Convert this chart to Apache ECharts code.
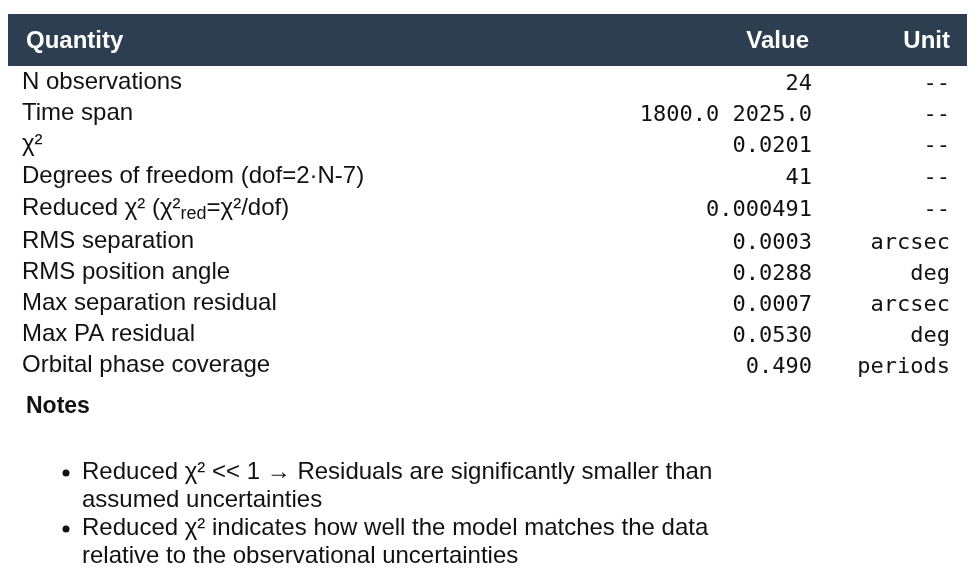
<!DOCTYPE html>
<html>
<head>
<meta charset="utf-8">
<script src="https://cdn.jsdelivr.net/npm/echarts@6/dist/echarts.min.js"></script>
<style>html,body{margin:0;padding:0;background:#fff}#main{width:980px;height:583px}</style>
</head>
<body>
<div id="main"></div>
<script>
var headers = ['Quantity', 'Value', 'Unit'];
var quantities = ['N observations', 'Time span', '{t|χ²}', 'Degrees of freedom (dof=2·N-7)',
	'Reduced χ² (χ²{sub|red}=χ²/dof)', 'RMS separation', 'RMS position angle',
	'Max separation residual', 'Max PA residual', 'Orbital phase coverage'];
var values = ['24', '1800.0 2025.0', '0.0201', '41', '0.000491', '0.0003', '0.0288', '0.0007', '0.0530', '0.490'];
var units = ['--', '--', '--', '--', '--', 'arcsec', 'deg', 'arcsec', 'deg', 'periods'];
var rowY = [82, 113, 144, 176, 208, 241, 272, 303, 334, 365];
var notes = ['Reduced χ² << 1 → Residuals are significantly smaller than', 'assumed uncertainties',
	'Reduced χ² indicates how well the model matches the data', 'relative to the observational uncertainties'];
var noteY = [472, 500, 528, 556];
var bulletRows = [0, 2];

var sans = 'Liberation Sans, Arial, sans-serif';
var mono = 'DejaVu Sans Mono, monospace';
var els = [];
els.push({type: 'rect', shape: {x: 8, y: 14, width: 959, height: 52}, style: {fill: '#2c3e50'}});
var hx = [26, 809, 950], ha = ['left', 'right', 'right'];
for (var h = 0; h < headers.length; h++) {
	els.push({type: 'text', x: hx[h], y: 41, style: {text: headers[h], fill: '#fff', font: 'bold 24px ' + sans, align: ha[h], verticalAlign: 'middle'}});
}
for (var i = 0; i < quantities.length; i++) {
	els.push({type: 'text', x: 22, y: rowY[i], style: {
		text: quantities[i], fill: '#111', fontSize: 24, fontFamily: sans, verticalAlign: 'middle',
		rich: {sub: {fontSize: 18, fontFamily: sans, fill: '#111', padding: [12, 0, 0, 0]}, t: {fontSize: 24, fontFamily: sans, fill: '#111'}}
	}});
	els.push({type: 'text', x: 812, y: rowY[i] + 2, style: {text: values[i], fill: '#111', fontSize: 22, fontFamily: mono, align: 'right', verticalAlign: 'middle'}});
	els.push({type: 'text', x: 950, y: rowY[i] + 2, style: {text: units[i], fill: '#111', fontSize: 22, fontFamily: mono, align: 'right', verticalAlign: 'middle'}});
}
els.push({type: 'text', x: 26, y: 407, style: {text: 'Notes', fill: '#111', font: 'bold 23px ' + sans, verticalAlign: 'middle'}});
for (var n = 0; n < notes.length; n++) {
	els.push({type: 'text', x: 82, y: noteY[n], style: {text: notes[n], fill: '#111', fontSize: 24, fontFamily: sans, verticalAlign: 'middle'}});
}
for (var b = 0; b < bulletRows.length; b++) {
	els.push({type: 'circle', shape: {cx: 66, cy: noteY[bulletRows[b]] + 1, r: 3.5}, style: {fill: '#111'}});
}

var myChart = echarts.init(document.getElementById('main'));
myChart.setOption({backgroundColor: '#fff', graphic: els});
</script>
</body>
</html>
